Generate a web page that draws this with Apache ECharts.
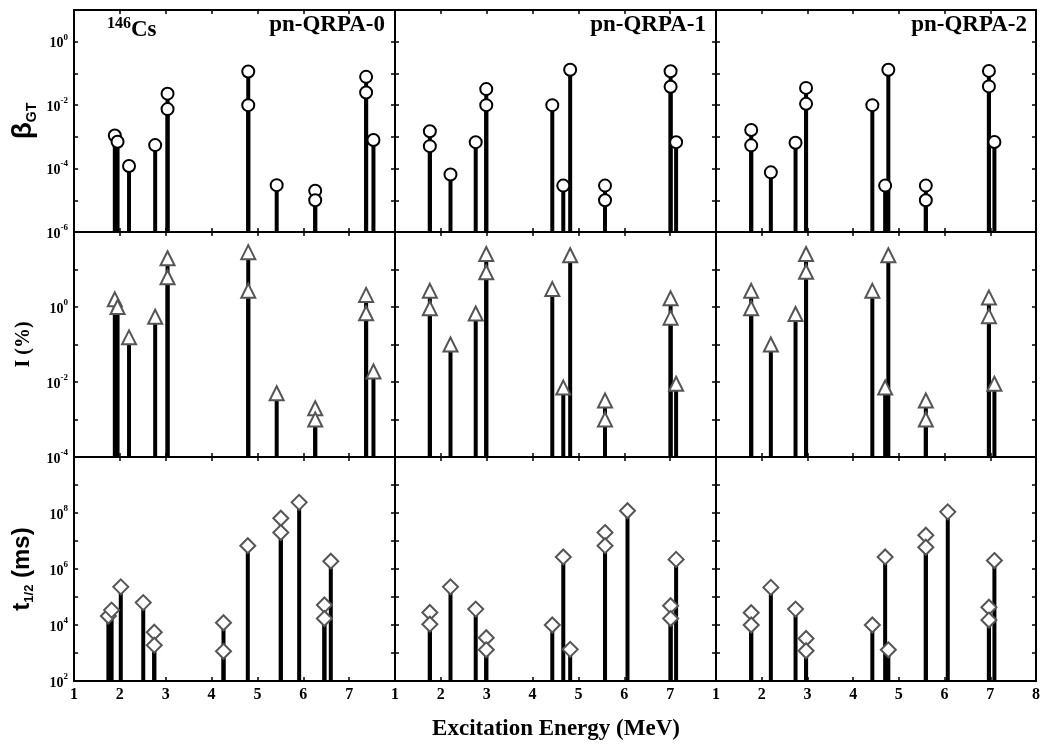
<!DOCTYPE html>
<html>
<head>
<meta charset="utf-8">
<script src="https://cdn.jsdelivr.net/npm/echarts@6/dist/echarts.min.js"></script>
<style>
html, body { margin: 0; padding: 0; background: #fff; }
#chart { width: 1050px; height: 747px; }
</style>
</head>
<body>
<div id="chart"></div>
<script>
// axis ranges
const xRange = [1, 8];
const gtRange = [1e-6, 1e1];
const intRange = [1e-4, 1e2];
const halfRange = [1e2, 1e10];
const panelNames = ['pn-QRPA-0', 'pn-QRPA-1', 'pn-QRPA-2'];

// pn-QRPA-0
const gtE0 = [1.89, 1.95, 2.2, 2.77, 3.04, 3.04, 4.8, 4.8, 5.42, 6.26, 6.26, 7.37, 7.37, 7.53];
const gtV0 = [1.1e-3, 7e-4, 1.2e-4, 5.5e-4, 0.023, 0.0075, 0.115, 0.01, 3e-5, 2e-5, 1e-5, 0.078, 0.025, 8e-4];
const intE0 = [1.89, 1.95, 2.2, 2.77, 3.04, 3.04, 4.8, 4.8, 5.42, 6.26, 6.26, 7.37, 7.37, 7.53];
const intV0 = [1.6, 1.0, 0.155, 0.55, 20, 6.2, 29, 2.7, 0.005, 0.002, 0.001, 2.1, 0.68, 0.019];
const halfE0 = [1.75, 1.82, 2.02, 2.51, 2.75, 2.75, 4.26, 4.26, 4.79, 5.51, 5.51, 5.91, 6.46, 6.46, 6.6];
const halfV0 = [2.1e4, 3.4e4, 2.3e5, 6.3e4, 5.5e3, 1.9e3, 1.2e4, 1.15e3, 6.8e6, 6.5e7, 2e7, 2.4e8, 5.2e4, 1.7e4, 1.9e6];

// pn-QRPA-1
const gtE1 = [1.76, 1.76, 2.21, 2.76, 2.99, 2.99, 4.43, 4.67, 4.82, 5.58, 5.58, 7.01, 7.01, 7.13];
const gtV1 = [1.5e-3, 5.1e-4, 6.5e-5, 6.8e-4, 0.032, 0.01, 0.01, 2.9e-5, 0.13, 2.9e-5, 1e-5, 0.117, 0.038, 6.8e-4];
const intE1 = [1.76, 1.76, 2.21, 2.76, 2.99, 2.99, 4.43, 4.67, 4.82, 5.58, 5.58, 7.01, 7.01, 7.13];
const intV1 = [2.7, 0.92, 0.1, 0.67, 26, 8.4, 3.0, 0.0071, 24, 0.0032, 0.001, 1.7, 0.52, 0.009];
const halfE1 = [1.76, 1.76, 2.21, 2.76, 2.99, 2.99, 4.43, 4.67, 4.82, 5.58, 5.58, 6.07, 7.01, 7.01, 7.13];
const halfV1 = [2.8e4, 1.07e4, 2.3e5, 3.7e4, 3.5e3, 1.3e3, 1e4, 2.7e6, 1.35e3, 2e7, 6.8e6, 1.2e8, 4.9e4, 1.7e4, 2.2e6];

// pn-QRPA-2
const gtE2 = [1.77, 1.77, 2.2, 2.74, 2.97, 2.97, 4.42, 4.70, 4.77, 5.59, 5.59, 6.97, 6.97, 7.09];
const gtV2 = [1.65e-3, 5.4e-4, 7.6e-5, 6.5e-4, 0.035, 0.011, 0.01, 2.9e-5, 0.13, 2.9e-5, 1e-5, 0.12, 0.039, 6.9e-4];
const intE2 = [1.77, 1.77, 2.2, 2.74, 2.97, 2.97, 4.42, 4.70, 4.77, 5.59, 5.59, 6.97, 6.97, 7.09];
const intV2 = [2.7, 0.92, 0.1, 0.65, 26, 8.7, 2.7, 0.0071, 24, 0.0032, 0.001, 1.78, 0.57, 0.009];
const halfE2 = [1.77, 1.77, 2.2, 2.74, 2.97, 2.97, 4.42, 4.70, 4.77, 5.59, 5.59, 6.07, 6.97, 6.97, 7.09];
const halfV2 = [2.75e4, 1e4, 2.2e5, 3.7e4, 3.3e3, 1.2e3, 1e4, 2.7e6, 1.3e3, 1.6e7, 6e6, 1.1e8, 4.3e4, 1.5e4, 2e6];

const panels = [
  [[gtE0, gtV0], [gtE1, gtV1], [gtE2, gtV2]],
  [[intE0, intV0], [intE1, intV1], [intE2, intV2]],
  [[halfE0, halfV0], [halfE1, halfV1], [halfE2, halfV2]],
];
const ranges = [gtRange, intRange, halfRange];

const colLeft = [74, 395, 716];
const colWidth = [321, 321, 320];
const rowTop = [10, 232, 457];
const rowHeight = [222, 225, 224];

const SERIF = 'Liberation Serif';
const SANS = 'Liberation Sans';

const markers = [
  { symbol: 'circle', symbolSize: 12, itemStyle: { color: '#fff', opacity: 1, borderColor: '#000', borderWidth: 2 } },
  { symbol: 'triangle', symbolSize: 14, itemStyle: { color: '#fff', opacity: 1, borderColor: '#555', borderWidth: 2 } },
  { symbol: 'diamond', symbolSize: 15, itemStyle: { color: '#fff', opacity: 1, borderColor: '#555', borderWidth: 2 } },
];

const yNames = [
  {
    name: '{a|β}{b|GT}', gap: 35,
    rich: {
      a: { fontFamily: SANS, fontWeight: 'bold', fontSize: 28, lineHeight: 32, color: '#000' },
      b: { fontFamily: SANS, fontWeight: 'bold', fontSize: 14, lineHeight: 14, verticalAlign: 'bottom', color: '#000' },
    },
  },
  {
    name: '{c|I (%)}', gap: 40,
    rich: { c: { fontFamily: SERIF, fontWeight: 'bold', fontSize: 20, color: '#000' } },
  },
  {
    name: '{a|t}{b|1/2}{a| (ms)}', gap: 38,
    rich: {
      a: { fontFamily: SANS, fontWeight: 'bold', fontSize: 24, lineHeight: 28, color: '#000' },
      b: { fontFamily: SANS, fontWeight: 'bold', fontSize: 13, lineHeight: 13, verticalAlign: 'bottom', color: '#000' },
    },
  },
];

const tickRich = {
  m: { fontFamily: SERIF, fontWeight: 'bold', fontSize: 14, lineHeight: 18, verticalAlign: 'bottom', color: '#000' },
  s: { fontFamily: SERIF, fontWeight: 'bold', fontSize: 9, lineHeight: 9, verticalAlign: 'top', color: '#000' },
};

const grids = [], xAxes = [], yAxes = [], series = [];

for (let r = 0; r < 3; r++) {
  for (let c = 0; c < 3; c++) {
    const g = r * 3 + c;
    grids.push({
      left: colLeft[c], top: rowTop[r], width: colWidth[c], height: rowHeight[r],
      show: true, borderColor: '#000', borderWidth: 2, backgroundColor: 'transparent',
    });
    const tick = { show: true, inside: true, length: 4, lineStyle: { color: '#000', width: 1.5 } };
    // bottom x axis
    xAxes.push({
      type: 'value', gridIndex: g, min: xRange[0], max: xRange[1], interval: 1,
      axisLine: { show: false }, splitLine: { show: false }, axisTick: tick,
      axisLabel: {
        show: r === 2, showMaxLabel: c === 2, margin: 6,
        fontFamily: SERIF, fontWeight: 'bold', fontSize: 16, color: '#000',
      },
    });
    // top x axis, ticks only
    xAxes.push({
      type: 'value', gridIndex: g, position: 'top', min: xRange[0], max: xRange[1], interval: 1,
      axisLine: { show: false }, splitLine: { show: false }, axisTick: tick, axisLabel: { show: false },
    });
    const yr = ranges[r];
    const yn = c === 0 ? yNames[r] : null;
    yAxes.push({
      type: 'log', logBase: 10, gridIndex: g, min: yr[0], max: yr[1], interval: 1,
      axisLine: { show: false }, splitLine: { show: false }, axisTick: tick,
      name: yn ? yn.name : '', nameLocation: 'middle', nameRotate: 90, nameGap: yn ? yn.gap : 40,
      nameTextStyle: yn ? { rich: yn.rich } : {},
      axisLabel: {
        show: c === 0, showMaxLabel: false, margin: 6,
        formatter: (v) => {
          const e = Math.round(Math.log10(v));
          return e % 2 === 0 ? '{m|10}{s|' + e + '}' : '';
        },
        rich: tickRich,
      },
    });
    // right y axis, ticks only
    yAxes.push({
      type: 'log', logBase: 10, gridIndex: g, position: 'right', min: yr[0], max: yr[1], interval: 1,
      axisLine: { show: false }, splitLine: { show: false }, axisTick: tick, axisLabel: { show: false },
    });

    const [E, V] = panels[r][c];
    const pts = E.map((e, i) => [e, V[i]]);
    const base = yr[0];
    series.push({
      type: 'custom', xAxisIndex: g * 2, yAxisIndex: g * 2, clip: true, z: 2,
      data: pts,
      renderItem: (params, api) => {
        const top = api.coord([api.value(0), api.value(1)]);
        const bot = api.coord([api.value(0), base]);
        return {
          type: 'line',
          shape: { x1: top[0], y1: bot[1], x2: top[0], y2: top[1] },
          style: { stroke: '#000', lineWidth: 4 },
        };
      },
    });
    series.push(Object.assign({
      type: 'scatter', xAxisIndex: g * 2, yAxisIndex: g * 2, z: 3, data: pts,
    }, markers[r]));
  }
}

const graphic = [
  {
    type: 'text', x: 107, y: 29,
    style: {
      text: '{a|146}{b|Cs}', verticalAlign: 'middle',
      rich: {
        a: { fontFamily: SERIF, fontWeight: 'bold', fontSize: 16, lineHeight: 16, verticalAlign: 'top', fill: '#000' },
        b: { fontFamily: SERIF, fontWeight: 'bold', fontSize: 23, lineHeight: 26, verticalAlign: 'bottom', fill: '#000' },
      },
    },
  },
  {
    type: 'text', x: 556, y: 729,
    style: {
      text: 'Excitation Energy (MeV)', align: 'center', verticalAlign: 'middle',
      font: 'bold 23px "Liberation Serif"', fill: '#000',
    },
  },
];
panelNames.forEach((t, c) => {
  graphic.push({
    type: 'text', x: colLeft[c] + 311, y: 25,
    style: {
      text: t, align: 'right', verticalAlign: 'middle',
      font: 'bold 23px "Liberation Serif"', fill: '#000',
    },
  });
});

const chart = echarts.init(document.getElementById('chart'));
chart.setOption({
  animation: false,
  backgroundColor: '#fff',
  grid: grids,
  xAxis: xAxes,
  yAxis: yAxes,
  series: series,
  graphic: graphic,
});
</script>
</body>
</html>
